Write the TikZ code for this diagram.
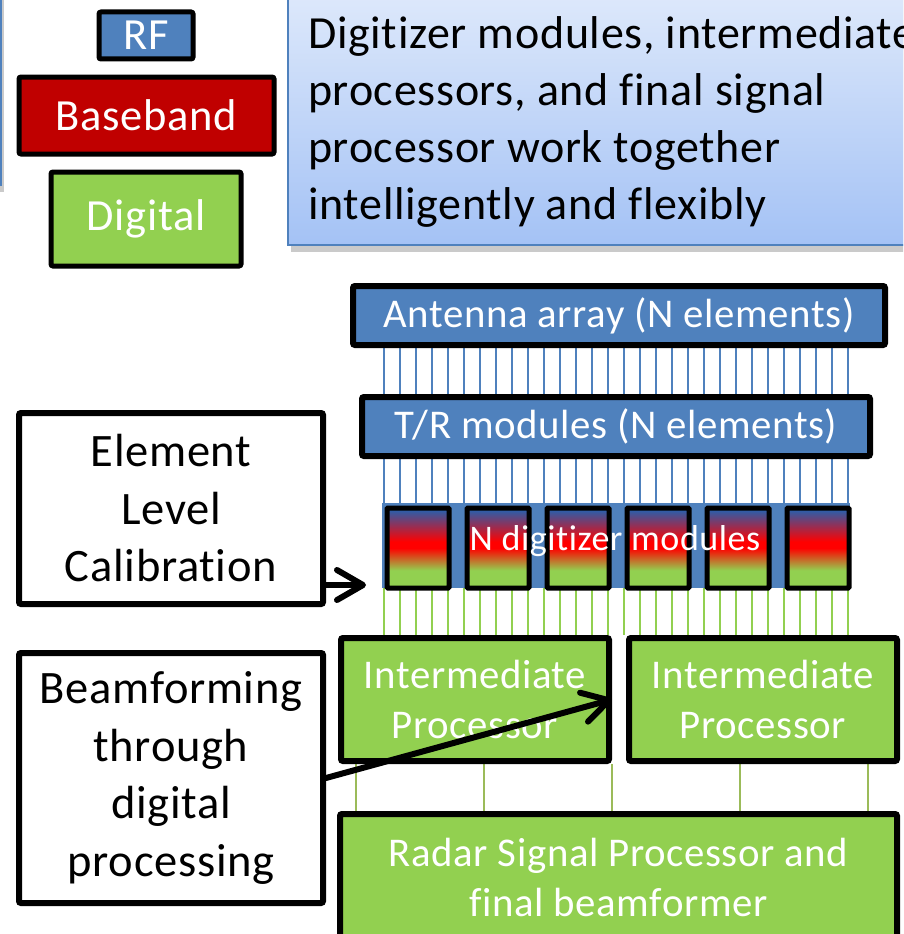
\documentclass[tikz,border=0pt]{standalone}
\usepackage{fontspec}
\setmainfont{Carlito}[LetterSpace = 1.5, Ligatures = NoCommon]
\usepackage{tikz}
\usetikzlibrary{arrows.meta}
\usetikzlibrary{shadows}
\usetikzlibrary{backgrounds}
\definecolor{rfblue}{RGB}{79, 129, 189}
\definecolor{bbred}{RGB}{192, 0, 0}
\definecolor{diggreen}{RGB}{146, 208, 80}
\definecolor{wiregreen}{RGB}{155, 187, 89}
\definecolor{modblue}{RGB}{30, 100, 180}
\definecolor{calltop}{RGB}{222, 233, 251}
\definecolor{callbot}{RGB}{164, 194, 245}
\pgfdeclareverticalshading{digshade}{100bp}{color(0bp)=(diggreen); color(36bp)=(diggreen);
  color(50bp)=(red); color(54bp)=(red); color(75bp)=(modblue); color(100bp)=(modblue)}
\tikzset{keybox/.style = {draw, line width = 5pt, rounded corners = 2pt, text = white, inner sep = 0,
                          anchor = north west, font = \fontsize{44.5pt}{54pt}\selectfont}}
\tikzset{rfbox/.style = {draw, fill = rfblue, line width = 6pt, rounded corners = 2pt, text = white,
                         inner sep = 0, anchor = north west, font = \fontsize{40.8pt}{50pt}\selectfont}}
\tikzset{digbox/.style = {rfbox, fill = diggreen, align = center}}
\tikzset{note/.style = {draw, fill = white, line width = 6pt, rounded corners = 2pt, align = center,
                        inner sep = 0, anchor = north west, font = \fontsize{46.5pt}{57.5pt}\selectfont}}
\tikzset{digmod/.style = {draw, shade, shading = digshade, line width = 5pt, rounded corners = 1pt,
                          inner sep = 0, anchor = north west, minimum width = 62pt, minimum height = 80pt}}
\tikzset{rfwire/.style = {rfblue, line width = 1.5pt}}
\tikzset{digwire/.style = {diggreen, line width = 2pt}}
\tikzset{buswire/.style = {wiregreen, line width = 1.2pt}}
\tikzset{callarrow/.style = {line width = 6pt, line cap = round,
                             -{Straight Barb[length = 26pt, width = 30pt, round]}}}
\tikzset{callout/.style = {draw = rfblue, line width = 2pt, top color = calltop, bottom color = callbot,
                           drop shadow = {shadow xshift = 3pt, shadow yshift = -7pt, opacity = 0.35, fill = black!60}}}

\begin{document}
\begin{tikzpicture}[x = 1pt, y = -1pt]
    \useasboundingbox (0, 0) rectangle (903, 934);
    \clip (0, 0) rectangle (903, 934);

    % callouts at the top
    \draw [callout] (-60, -10) rectangle (1, 185);
    \draw [callout] (288, -10) rectangle (940, 245);
    \node [anchor = north west, inner sep = 0, align = left, font = \fontsize{46pt}{57pt}\selectfont]
      (calltext) at (308, 16) {Digitizer modules, intermediate\\processors, and final signal\\processor work together\\intelligently and flexibly};

    % colour key
    \node [keybox, fill = rfblue, minimum width = 94pt, minimum height = 47pt] (keyrf) at (96.5, 9.5) {RF};
    \node [keybox, fill = bbred, minimum width = 255pt, minimum height = 77pt] (keybb) at (16.5, 74.5) {Baseband};
    \node [keybox, fill = diggreen, minimum width = 190pt, minimum height = 94pt] (keydig) at (48.5, 169.5) {Digital};

    % signal chain
    \node [rfbox, minimum width = 532pt, minimum height = 59pt] (ant) at (350, 283) {Antenna array (N elements)};
    \node [rfbox, minimum width = 508pt, minimum height = 59pt] (tr) at (359, 394) {T/R modules (N elements)};
    \node [fill = rfblue, inner sep = 0, anchor = north west, minimum width = 468pt, minimum height = 85pt] (band) at (382, 503) {};
    \foreach \i in {0, ..., 5}
      \node [digmod] (dig\i) at ({384.5 + 80*\i}, 505.5) {};
    \node [anchor = base, text = white, inner sep = 0, font = \fontsize{36pt}{44pt}\selectfont] (diglabel) at (615, 550) {N digitizer modules};
    \node [digbox, minimum width = 268pt, minimum height = 123pt] (proc1) at (338, 635) {Intermediate\\Processor};
    \node [digbox, minimum width = 268pt, minimum height = 123pt] (proc2) at (626, 635) {Intermediate\\Processor};
    \node [digbox, minimum width = 557pt, minimum height = 126pt] (rsp) at (337, 811) {Radar Signal Processor and\\final beamformer};

    % element wires
    \begin{scope}[on background layer]
      \foreach \i in {0, ..., 29} {
        \coordinate (w\i) at ({384 + 16*\i}, 0);
        \draw [rfwire] (w\i |- ant.south) -- (w\i |- tr.north);
        \draw [rfwire] (w\i |- tr.south) -- (w\i |- band.north);
        \draw [digwire] (w\i |- band.south) -- (w\i |- proc1.north);
      }
      \foreach \x [count = \j] in {356, 484, 612, 740, 868} {
        \coordinate (bus\j) at (\x, 0);
        \draw [buswire] (bus\j |- proc1.south) -- (bus\j |- rsp.north);
      }
    \end{scope}

    % notes on the left
    \node [note, minimum width = 304pt, minimum height = 191pt] (elem) at (16, 410) {Element\\Level\\Calibration};
    \node [note, minimum width = 304pt, minimum height = 250pt] (beam) at (16, 650) {Beamforming\\through\\digital\\processing};

    \coordinate (calib) at (366, 585);
    \draw [callarrow] (elem.east |- calib) -- (calib);
    \draw [callarrow] (beam.east) -- (proc1.east);
\end{tikzpicture}
\end{document}
